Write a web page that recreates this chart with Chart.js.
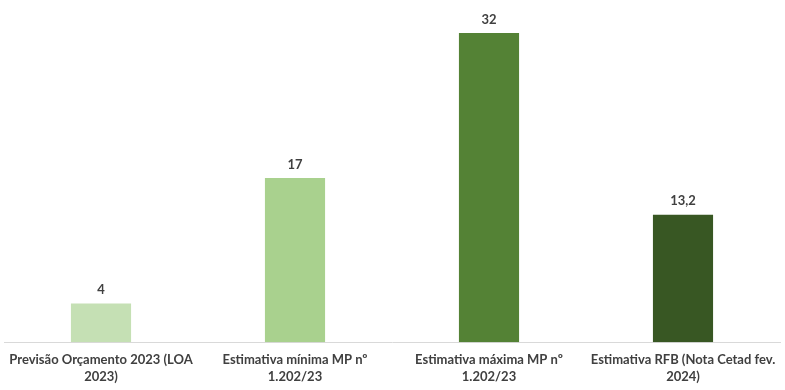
<!DOCTYPE html>
<html>
<head>
<meta charset="utf-8">
<script src="https://cdn.jsdelivr.net/npm/chart.js@4"></script>
<style>
    html, body { margin: 0; padding: 0; background: #fff; }
    #wrap { width: 785px; height: 390px; }
</style>
</head>
<body>
<div id="wrap"><canvas id="chart"></canvas></div>
<script>
// Data
const categories = [
    ['Previsão Orçamento 2023 (LOA', '2023)'],
    ['Estimativa mínima MP nº', '1.202/23'],
    ['Estimativa máxima MP nº', '1.202/23'],
    ['Estimativa RFB (Nota Cetad fev.', '2024)']
];
const values = [4, 17, 32, 13.2];
const barColors = ['#c5e0b4', '#a9d18e', '#548235', '#385723'];

// Value labels above the bars
const valueLabels = {
    id: 'valueLabels',
    afterDatasetsDraw(chart) {
        const ctx = chart.ctx;
        const meta = chart.getDatasetMeta(0);
        ctx.save();
        ctx.font = 'bold 13px Lato';
        ctx.fillStyle = '#404040';
        ctx.textAlign = 'center';
        ctx.textBaseline = 'bottom';
        meta.data.forEach((bar, i) => {
            const txt = values[i].toString().replace('.', ',');
            ctx.fillText(txt, bar.x, bar.y - 7);
        });
        ctx.restore();
    }
};

new Chart(document.getElementById('chart'), {
    type: 'bar',
    data: {
        labels: categories,
        datasets: [{
            data: values,
            backgroundColor: barColors,
            barPercentage: 0.31,
            categoryPercentage: 1.0
        }]
    },
    options: {
        responsive: true,
        maintainAspectRatio: false,
        animation: false,
        layout: { padding: { left: 4, right: 5, top: 4, bottom: 4 } },
        plugins: {
            legend: { display: false },
            tooltip: { enabled: false }
        },
        scales: {
            x: {
                grid: { display: false },
                border: { display: true, color: '#d9d9d9', width: 1 },
                ticks: {
                    color: '#404040',
                    font: { family: 'Lato', size: 13, weight: 'bold', lineHeight: 1.3 },
                    padding: 1,
                    maxRotation: 0,
                    autoSkip: false
                }
            },
            y: {
                display: false,
                min: 0,
                max: 35
            }
        }
    },
    plugins: [valueLabels]
});
</script>
</body>
</html>
